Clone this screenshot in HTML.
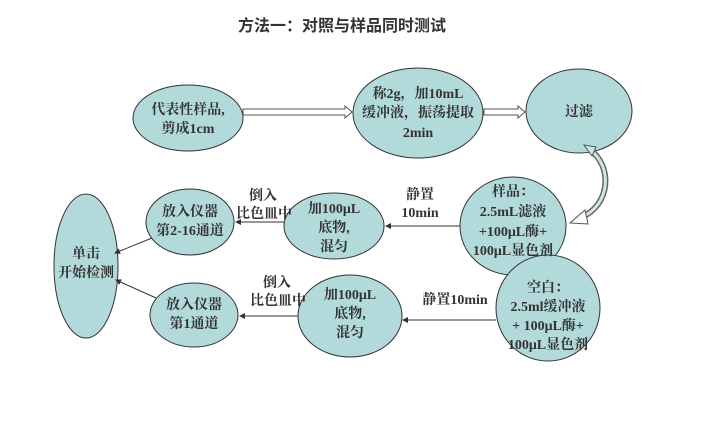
<!DOCTYPE html>
<html><head><meta charset="utf-8"><style>
body{margin:0;background:#fff;width:704px;height:433px;overflow:hidden}
svg text{font-family:"Liberation Serif","Noto Serif CJK SC",serif;fill:#333;font-weight:bold}
</style></head><body>
<svg width="704" height="433" viewBox="0 0 704 433" xmlns="http://www.w3.org/2000/svg">
<text x="342" y="31" text-anchor="middle" style="font-family:'Liberation Sans','Noto Sans CJK SC',sans-serif;font-size:16px;fill:#333">方法一：对照与样品同时测试</text>
<defs><marker id="a" markerWidth="6" markerHeight="6" refX="5" refY="3" orient="auto"><path d="M0,0L6,3L0,6z" fill="#333"/></marker></defs>
<g fill="#b3dadb" stroke="#333" stroke-width="1">
<ellipse cx="188" cy="118" rx="55" ry="33"/>
<ellipse cx="418" cy="113" rx="65" ry="45"/>
<ellipse cx="579" cy="111" rx="53" ry="42"/>
<ellipse cx="513" cy="226" rx="53" ry="49"/>
<ellipse cx="334" cy="226" rx="50" ry="33"/>
<ellipse cx="190" cy="222" rx="44" ry="33"/>
<ellipse cx="86" cy="266" rx="32" ry="72"/>
<ellipse cx="194" cy="315" rx="44" ry="32"/>
<ellipse cx="350" cy="316" rx="52" ry="41"/>
<ellipse cx="548" cy="308" rx="52" ry="53"/>
</g>
<g fill="#fff" stroke="#555" stroke-width="1">
<path d="M243,109L345,109L345,106L352,112L345,118L345,115L243,115z"/>
<path d="M484,109L518,109L518,106L525,112L518,118L518,115L484,115z"/>
</g>
<path d="M590,150C612,165 612,205 580,218" fill="none" stroke="#666" stroke-width="6"/>
<path d="M590,150C612,165 612,205 580,218" fill="none" stroke="#cfe6e8" stroke-width="3"/>
<path d="M585,210L570,223L588,224z" fill="#fff" stroke="#555"/>
<path d="M584,145L596,147L592,156z" fill="#cfe6e8" stroke="#555"/>
<g stroke="#333" stroke-width="1" marker-end="url(#a)">
<line x1="460" y1="226" x2="386" y2="226"/>
<line x1="284" y1="222" x2="236" y2="222"/>
<line x1="152" y1="238" x2="115" y2="253"/>
<line x1="156" y1="298" x2="116" y2="280"/>
<line x1="496" y1="320" x2="403" y2="320"/>
<line x1="298" y1="316" x2="240" y2="316"/>
</g>
<g font-size="14" text-anchor="middle">
<text x="188" y="114">代表性样品,</text><text x="188" y="133">剪成1cm</text>
<text x="418" y="98">称2g，加10mL</text><text x="418" y="117">缓冲液，振荡提取</text><text x="418" y="137">2min</text>
<text x="579" y="116">过滤</text>
<text x="513" y="196">样品：</text><text x="513" y="216">2.5mL滤液</text><text x="513" y="236">+100μL酶+</text><text x="513" y="255">100μL显色剂</text>
<text x="334" y="213">加100μL</text><text x="334" y="232">底物,</text><text x="334" y="251">混匀</text>
<text x="190" y="216">放入仪器</text><text x="190" y="235">第2-16通道</text>
<text x="86" y="258">单击</text><text x="86" y="277">开始检测</text>
<text x="194" y="309">放入仪器</text><text x="194" y="328">第1通道</text>
<text x="350" y="299">加100μL</text><text x="350" y="318">底物,</text><text x="350" y="337">混匀</text>
<text x="548" y="292">空白：</text><text x="548" y="311">2.5ml缓冲液</text><text x="548" y="330">+ 100μL酶+</text><text x="548" y="349">100μL显色剂</text>
<text x="263" y="200">倒入</text><text x="264" y="218">比色皿中</text>
<text x="420" y="199">静置</text><text x="420" y="217">10min</text>
<text x="277" y="287">倒入</text><text x="278" y="305">比色皿中</text>
<text x="455" y="304">静置10min</text>
</g>
</svg>
</body></html>
